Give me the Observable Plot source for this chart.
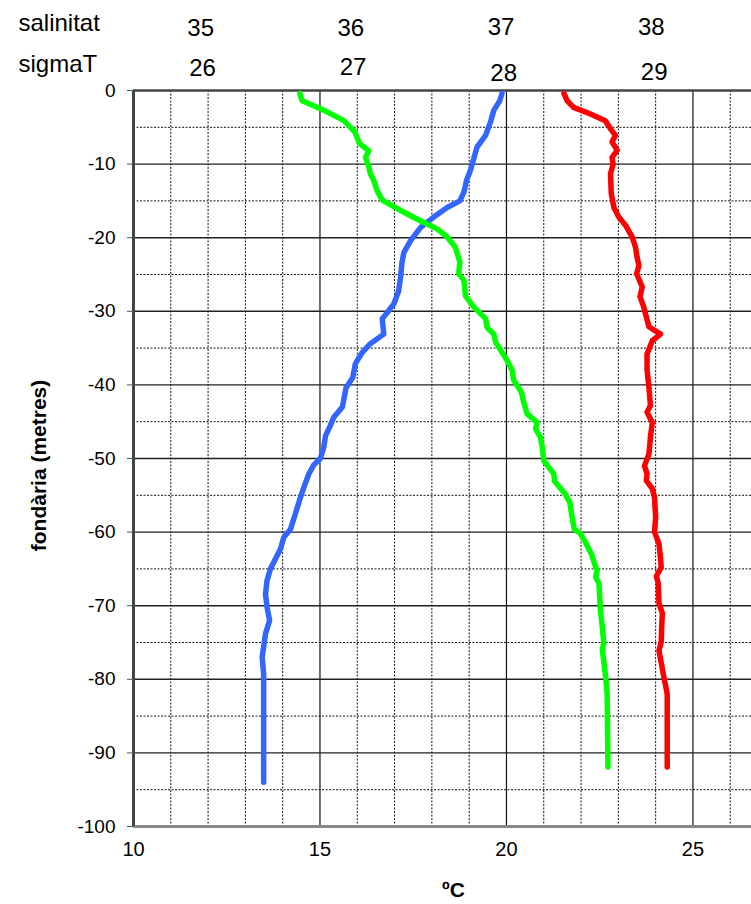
<!DOCTYPE html>
<html>
<head>
<meta charset="utf-8">
<script src="https://cdn.jsdelivr.net/npm/d3@7"></script>
<script src="https://cdn.jsdelivr.net/npm/@observablehq/plot@0.6"></script>
<style>
  html, body { margin: 0; padding: 0; background: #fff; }
  #chart svg { display: block; }
</style>
</head>
<body>
<div id="chart"></div>
<script>
// ---- data (values read in the ºC axis coordinates, depth in metres) ----
const tempDepth = [-0.4,-1.4,-2.7,-4.3,-6.1,-7.7,-9.3,-10.9,-12.2,-13.8,-15.0,-15.9,-17.2,-18.6,-20.4,-22.0,-23.3,-25.4,-27.2,-29.0,-30.2,-31.0,-33.1,-34.4,-35.6,-37.1,-39.0,-40.4,-43.0,-44.4,-45.5,-46.9,-48.5,-50.0,-50.9,-52.1,-53.9,-55.7,-57.5,-59.6,-60.7,-62.3,-65.0,-66.6,-68.4,-70.2,-72.0,-73.8,-77.0,-79.3,-82.9,-94.0];
const tempValue = [19.88,19.82,19.66,19.57,19.44,19.21,19.12,19.03,18.93,18.86,18.75,18.41,18.05,17.70,17.43,17.25,17.20,17.16,17.11,16.98,16.80,16.67,16.71,16.35,16.13,15.95,15.88,15.70,15.60,15.37,15.28,15.15,15.10,15.01,14.83,14.70,14.57,14.45,14.34,14.21,14.03,13.94,13.67,13.58,13.54,13.58,13.65,13.54,13.45,13.49,13.49,13.49];

const salDepth = [-0.4,-1.4,-2.0,-2.9,-4.1,-5.6,-7.2,-8.2,-9.1,-10.4,-11.3,-12.2,-13.6,-14.9,-16.3,-17.7,-18.8,-19.9,-21.3,-23.3,-24.9,-25.8,-27.9,-29.4,-31.0,-32.2,-33.1,-34.2,-36.7,-38.0,-39.3,-41.0,-42.3,-43.9,-45.1,-46.0,-47.1,-48.5,-50.3,-51.5,-52.1,-53.1,-54.7,-56.0,-58.0,-59.6,-60.2,-61.4,-63.0,-64.6,-65.2,-66.1,-67.0,-70.7,-72.9,-75.1,-75.9,-79.7,-82.0,-91.9];
const salValue = [14.46,14.52,14.80,15.19,15.64,15.93,16.06,16.31,16.22,16.31,16.35,16.44,16.53,16.67,17.16,17.69,18.14,18.41,18.63,18.75,18.72,18.86,18.90,19.12,19.44,19.48,19.66,19.71,20.02,20.15,20.19,20.40,20.46,20.55,20.82,20.78,20.91,20.96,21.00,21.18,21.27,21.29,21.56,21.70,21.76,21.82,21.98,22.12,22.28,22.38,22.43,22.39,22.48,22.52,22.57,22.61,22.57,22.66,22.70,22.72];

const sigDepth = [-0.4,-1.4,-2.3,-3.2,-4.1,-5.2,-6.1,-7.0,-8.1,-9.1,-10.0,-11.3,-14.0,-15.9,-17.2,-18.3,-19.9,-21.3,-22.6,-23.8,-24.9,-26.7,-28.0,-29.4,-30.4,-32.1,-33.1,-34.0,-35.8,-38.0,-40.3,-42.8,-43.7,-45.1,-47.1,-49.4,-51.0,-52.1,-53.0,-54.1,-55.3,-58.0,-60.0,-61.6,-63.0,-64.8,-66.0,-67.0,-69.7,-71.0,-73.2,-74.9,-76.1,-79.7,-82.0,-91.9];
const sigValue = [21.54,21.63,21.80,22.25,22.65,22.79,22.92,22.83,22.97,22.83,22.86,22.79,22.81,22.88,23.01,23.19,23.37,23.46,23.50,23.55,23.49,23.64,23.58,23.68,23.73,23.82,24.13,23.91,23.77,23.77,23.82,23.86,23.77,23.91,23.86,23.82,23.70,23.77,23.75,23.91,23.97,24.00,23.97,24.09,24.12,24.15,24.02,24.07,24.09,24.18,24.16,24.15,24.09,24.22,24.31,24.31];

const tempTicks = [10, 15, 20, 25];
const depthTicks = [0,-10,-20,-30,-40,-50,-60,-70,-80,-90,-100];
const salinityTicks = [35, 36, 37, 38];
const sigmaTicks = [26, 27, 28, 29];

// linear mappings of the secondary scales onto the ºC axis
const salToT = s => 11.80 + (s - 35) * 4.028;
const sigToT = s => 11.85 + (s - 26) * 4.037;

const series = [
  {name: "temperatura", depth: tempDepth, value: tempValue, color: "#3366ff"},
  {name: "salinitat", depth: salDepth, value: salValue, color: "#00ff00"},
  {name: "sigmaT", depth: sigDepth, value: sigValue, color: "#ff0000"}
];
const rows = series.flatMap(s => s.depth.map((d, i) => ({series: s.name, depth: d, value: s.value[i], color: s.color})));

const font = "'Liberation Sans', Arial, Helvetica, sans-serif";
const fmt = d => String(d); // plain hyphen minus like the original

// vertical offsets (px from the frame top) of the top labels
const salDy = [-62.5, -62.5, -63.5, -63.5];
const sigDy = [-22.5, -23.5, -17.5, -18.5];

const topLabels = [
  ...salinityTicks.map((s, i) => Plot.text([s], {x: d => salToT(d), frameAnchor: "top", lineAnchor: "middle", textAnchor: "middle", dy: salDy[i], text: fmt, fontSize: 24})),
  ...sigmaTicks.map((s, i) => Plot.text([s], {x: d => sigToT(d), frameAnchor: "top", lineAnchor: "middle", textAnchor: "middle", dy: sigDy[i], text: fmt, fontSize: 24})),
  Plot.text(["salinitat"], {frameAnchor: "top-left", lineAnchor: "middle", textAnchor: "start", dx: -115, dy: -67.5, text: d => d, fontSize: 24}),
  Plot.text(["sigmaT"], {frameAnchor: "top-left", lineAnchor: "middle", textAnchor: "start", dx: -115, dy: -26, text: d => d, fontSize: 24})
];

const chart = Plot.plot({
  width: 751,
  height: 904,
  marginTop: 90,
  marginLeft: 133,
  marginBottom: 78,
  marginRight: 0,
  style: {fontFamily: font, fontSize: "19px", color: "#000", background: "#fff", overflow: "visible"},
  x: {domain: [10, 26.57], label: null},
  y: {domain: [-100, 0], label: null},
  marks: [
    // minor grid (dotted)
    Plot.ruleX(d3.range(11, 27).filter(v => v % 5 !== 0), {stroke: "#111", strokeWidth: 1, strokeDasharray: "2,1.5"}),
    Plot.ruleY(d3.range(-95, 0, 10), {stroke: "#111", strokeWidth: 1, strokeDasharray: "2,1.5"}),
    // major grid (solid)
    Plot.ruleX([15, 20, 25], {stroke: "#111", strokeWidth: 1.2}),
    Plot.ruleY(d3.range(-90, 0, 10), {stroke: "#222", strokeWidth: 1.4}),
    // frame lines
    Plot.ruleY([0], {stroke: "#444", strokeWidth: 2.5}),
    Plot.ruleY([-100], {stroke: "#888", strokeWidth: 3}),
    Plot.ruleX([10], {stroke: "#444", strokeWidth: 3}),
    Plot.axisY({ticks: depthTicks, tickFormat: fmt, tickSize: 6, tickPadding: 12, stroke: "#555", fontSize: 19, label: null}),
    Plot.axisX({ticks: tempTicks, tickFormat: fmt, tickSize: 0, tickPadding: 15, fontSize: 20, label: null}),
    // profiles
    Plot.line(rows, {x: "value", y: "depth", z: "series", stroke: "color", strokeWidth: 5.5, curve: "linear", strokeLinecap: "round", strokeLinejoin: "round"}),
    ...topLabels,
    // axis titles
    Plot.text(["ºC"], {frameAnchor: "bottom-left", textAnchor: "middle", lineAnchor: "middle", dx: 320, dy: 64, text: d => d, fontWeight: "bold", fontSize: 21}),
    Plot.text(["fondària (metres)"], {frameAnchor: "left", textAnchor: "middle", lineAnchor: "middle", dx: -94, dy: 7, rotate: -90, text: d => d, fontWeight: "bold", fontSize: 21})
  ]
});

document.getElementById("chart").appendChild(chart);
</script>
</body>
</html>
